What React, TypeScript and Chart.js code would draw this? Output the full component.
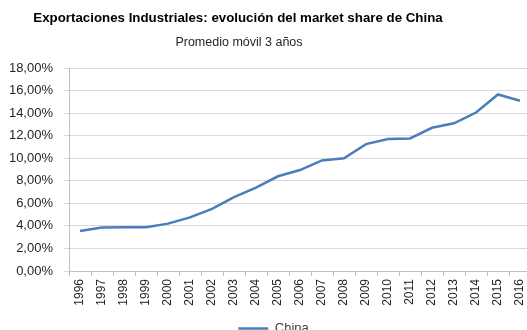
import React, { useEffect, useRef } from "react";
import { Chart, registerables } from "chart.js";

Chart.register(...registerables);

const years: string[] = [
  "1996", "1997", "1998", "1999", "2000", "2001", "2002", "2003", "2004", "2005", "2006",
  "2007", "2008", "2009", "2010", "2011", "2012", "2013", "2014", "2015", "2016",
];
const chinaShare: number[] = [
  3.55, 3.85, 3.87, 3.87, 4.2, 4.75, 5.5, 6.55, 7.4, 8.4, 8.95,
  9.8, 10.0, 11.25, 11.7, 11.75, 12.7, 13.1, 14.05, 15.65, 15.1,
];
const titleText = "Exportaciones Industriales: evolución del market share de China";
const subtitleText = "Promedio móvil 3 años";
const seriesLabel = "China";

const shiftLegend = {
  id: "shiftLegend",
  afterLayout(chart: any) {
    if (chart.legend) {
      chart.legend.left += 8;
      chart.legend.right += 8;
    }
  },
};

export default function App() {
  const ref = useRef<HTMLCanvasElement | null>(null);
  useEffect(() => {
    if (!ref.current) return;
    const chart = new Chart(ref.current, {
      type: "line",
      data: {
        labels: years,
        datasets: [
          {
            label: seriesLabel,
            data: chinaShare,
            borderColor: "#4a7ebb",
            backgroundColor: "#4a7ebb",
            borderWidth: 2.5,
            pointRadius: 0,
            tension: 0,
          },
        ],
      },
      options: {
        animation: false,
        responsive: false,
        layout: { padding: { top: 68, right: 1, left: 0, bottom: 0 } },
        plugins: {
          title: { display: false },
          tooltip: { enabled: false },
          legend: {
            position: "bottom",
            labels: {
              usePointStyle: true,
              pointStyle: "line",
              pointStyleWidth: 30,
              padding: 6,
              color: "#404040",
              font: { family: "Liberation Sans", size: 13 },
            },
          },
        },
        scales: {
          x: {
            offset: true,
            grid: {
              offset: true,
              drawOnChartArea: false,
              drawTicks: true,
              tickLength: 5,
              color: "#bfbfbf",
            },
            border: { color: "#bfbfbf" },
            ticks: {
              autoSkip: false,
              minRotation: 90,
              maxRotation: 90,
              padding: 3,
              color: "#262626",
              font: { family: "Liberation Sans", size: 12 },
            },
            afterFit: (s: any) => {
              s.height = 45;
              s.paddingLeft = 0;
              s.paddingRight = 0;
            },
          },
          y: {
            min: 0,
            max: 18,
            ticks: {
              stepSize: 2,
              padding: 11,
              color: "#262626",
              font: { family: "Liberation Sans", size: 13 },
              callback: (v: any) => Number(v).toFixed(2).replace(".", ",") + "%",
            },
            grid: { color: "#d9d9d9", tickLength: 5, lineWidth: 1 },
            border: { color: "#bfbfbf" },
            afterFit: (s: any) => {
              s.width = 69;
            },
          },
        },
      },
      plugins: [shiftLegend],
    });
    return () => chart.destroy();
  }, []);

  return (
    <div style={{ position: "fixed", left: 0, top: 0, width: 527, height: 330, overflow: "hidden", background: "#fff" }}>
      <canvas ref={ref} width={532} height={345} style={{ position: "absolute", left: 0, top: 0 }} />
      <div
        style={{
          position: "absolute",
          left: 0,
          width: 476,
          top: 10,
          textAlign: "center",
          fontFamily: "Liberation Sans",
          fontWeight: "bold",
          fontSize: 13.3,
          color: "#000",
          whiteSpace: "nowrap",
        }}
      >
        {titleText}
      </div>
      <div
        style={{
          position: "absolute",
          left: 0,
          width: 478,
          top: 35,
          textAlign: "center",
          fontFamily: "Liberation Sans",
          fontSize: 12.5,
          color: "#262626",
          whiteSpace: "nowrap",
        }}
      >
        {subtitleText}
      </div>
    </div>
  );
}
